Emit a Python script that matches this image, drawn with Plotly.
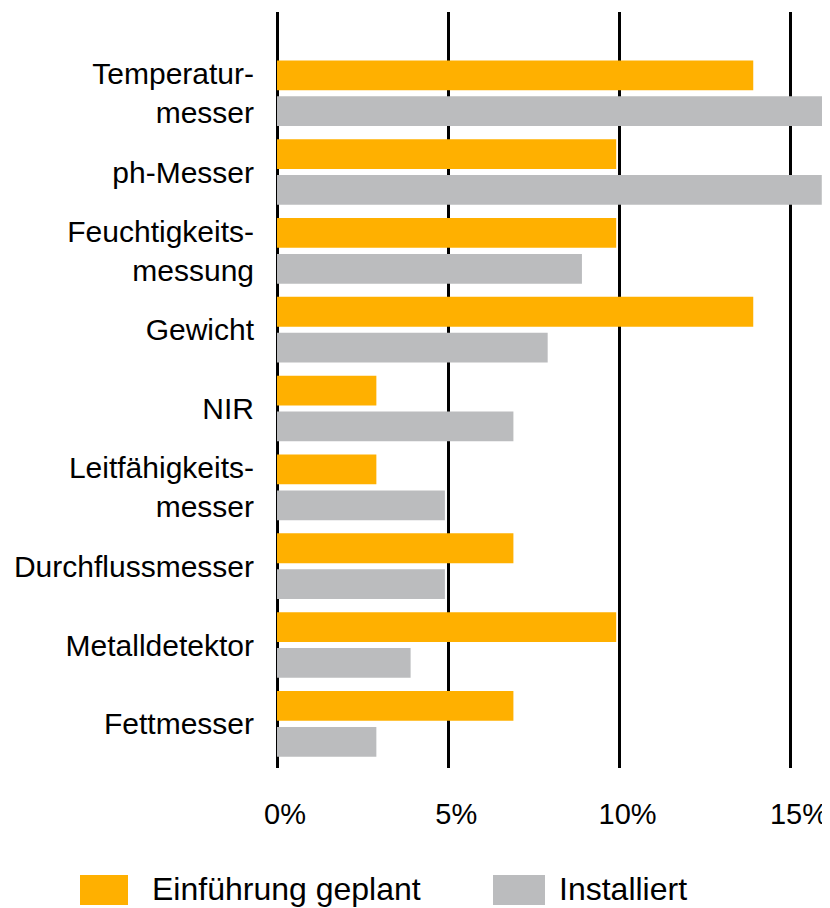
import plotly.graph_objects as go

# sensor types (top to bottom)
categories = [
    "Temperatur-<br>messer",
    "ph-Messer",
    "Feuchtigkeits-<br>messung",
    "Gewicht",
    "NIR",
    "Leitfähigkeits-<br>messer",
    "Durchflussmesser",
    "Metalldetektor",
    "Fettmesser",
]

# share in percent
geplant = [13.9, 9.9, 9.9, 13.9, 2.9, 2.9, 6.9, 9.9, 6.9]
installiert = [16.2, 15.9, 8.9, 7.9, 6.9, 4.9, 4.9, 3.9, 2.9]

tick_vals = [0, 5, 10, 15]
tick_text = ["0%", "5%", "10%", "15%"]

ORANGE = "#FFB000"
GRAY = "#BBBCBE"
FONT = "Liberation Sans, Arial, sans-serif"

# page body adds 8px margin, so the figure is shrunk and shifted
OFF = 8
W, H = 830 - OFF, 908 - OFF
L, T = 277 - OFF, 12 - OFF
B = H - (768 - OFF)
PW, PH = W - L, H - T - B

fig = go.Figure()
fig.add_trace(go.Bar(y=categories, x=geplant, orientation="h",
                     name="Einführung geplant", marker_color=ORANGE,
                     marker_line_width=0))
fig.add_trace(go.Bar(y=categories, x=installiert, orientation="h",
                     name="Installiert", marker_color=GRAY,
                     marker_line_width=0))

fig.update_layout(
    width=W, height=H,
    margin=dict(l=L, r=0, t=T, b=B, pad=0),
    paper_bgcolor="white", plot_bgcolor="white",
    barmode="group", bargap=0.09, bargroupgap=0.17,
    showlegend=False,
    font=dict(family=FONT, size=28, color="black"),
)

fig.update_xaxes(
    range=[0, 16.14], tickvals=tick_vals, ticktext=tick_text,
    showgrid=True, gridcolor="black", gridwidth=3,
    zeroline=True, zerolinecolor="black", zerolinewidth=3,
    ticks="", ticklabelstandoff=26, ticklabelshift=8,
    tickfont=dict(size=29), fixedrange=True,
)
fig.update_yaxes(
    range=[8.56, -1.03], type="category",
    showgrid=False, zeroline=False, ticks="",
    ticklabelstandoff=22, tickfont=dict(size=30),
)

# legend drawn by hand to get the big colour boxes (screen px)
legend_items = [("Einführung geplant", ORANGE, 80, 128, 153),
                ("Installiert", GRAY, 493, 545, 560)]


def px_x(x):
    return (x - OFF - L) / PW


def px_y(y):
    return (H - B - (y - OFF)) / PH


for label, color, x0, x1, tx in legend_items:
    fig.add_shape(type="rect", xref="paper", yref="paper",
                  x0=px_x(x0), x1=px_x(x1),
                  y0=px_y(905), y1=px_y(875),
                  fillcolor=color, line_width=0)
    fig.add_annotation(text=label, xref="paper", yref="paper",
                       x=px_x(tx), y=px_y(889),
                       xanchor="left", yanchor="middle", showarrow=False,
                       xshift=-3, font=dict(size=32))

fig.write_html("out.html")
